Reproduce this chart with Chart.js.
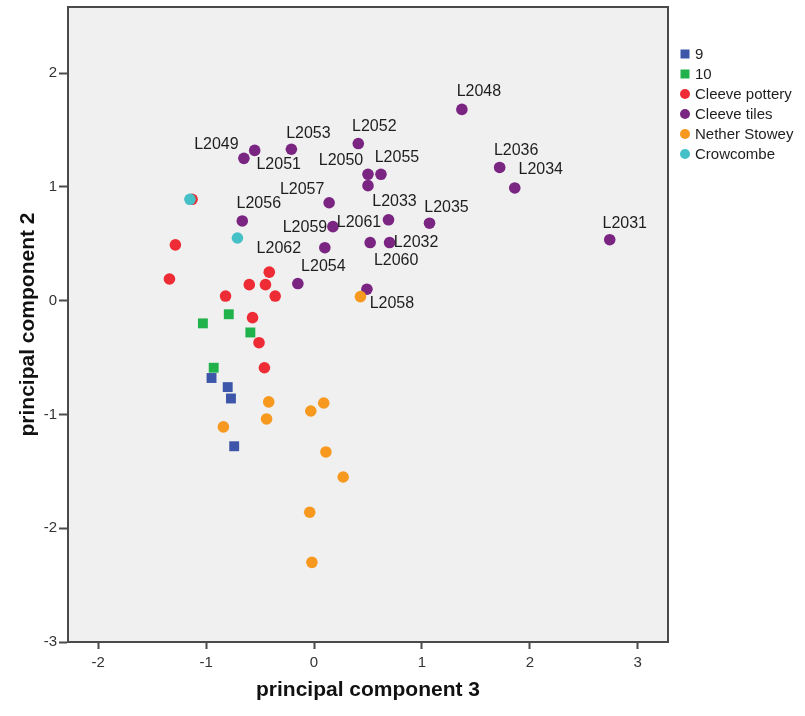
<!DOCTYPE html>
<html>
<head>
<meta charset="utf-8">
<script src="https://cdn.jsdelivr.net/npm/chart.js@4"></script>
<style>
  html, body { margin: 0; padding: 0; background: #ffffff; }
  canvas { display: block; }
</style>
</head>
<body>
<canvas id="pcaChart" width="805" height="716"></canvas>
<script>
/* --------------- Data -------------------------------------------- */
const group9X = [-0.95, -0.80, -0.77, -0.74];
const group9Y = [-0.68, -0.76, -0.86, -1.28];

const group10X = [-1.03, -0.79, -0.59, -0.93];
const group10Y = [-0.20, -0.12, -0.28, -0.59];

const potteryX = [-1.13, -1.285, -1.34, -0.415, -0.60, -0.45, -0.82, -0.36, -0.57, -0.51, -0.46];
const potteryY = [0.89, 0.49, 0.19, 0.25, 0.14, 0.14, 0.04, 0.04, -0.15, -0.37, -0.59];

const tileLabels = [
  "L2048", "L2036", "L2034", "L2031", "L2035", "L2033", "L2032", "L2060", "L2059", "L2058", "L2052",
  "L2050", "L2061", "L2055", "L2053", "L2049", "L2051", "L2057", "L2056", "L2062", "L2054",
];
const tilesX = [1.37, 1.72, 1.86, 2.74, 1.07, 0.69, 0.70, 0.52, 0.175, 0.49, 0.41,
  0.50, 0.50, 0.62, -0.21, -0.65, -0.55, 0.14, -0.665, 0.10, -0.15];
const tilesY = [1.68, 1.17, 0.99, 0.535, 0.68, 0.71, 0.51, 0.51, 0.65, 0.10, 1.38,
  1.11, 1.01, 1.11, 1.33, 1.25, 1.32, 0.86, 0.70, 0.465, 0.15];

const stoweyX = [0.43, -0.42, -0.44, -0.84, -0.03, 0.09, 0.11, 0.27, -0.04, -0.02];
const stoweyY = [0.035, -0.89, -1.04, -1.11, -0.97, -0.90, -1.33, -1.55, -1.86, -2.30];

const crowX = [-1.15, -0.71];
const crowY = [0.89, 0.55];

const seriesNames = ["9", "10", "Cleeve pottery", "Cleeve tiles", "Nether Stowey", "Crowcombe"];
const xTicks = [-2, -1, 0, 1, 2, 3];
const yTicks = [-3, -2, -1, 0, 1, 2];

/* --------------- Styles --------------------- */
const colors = ["#3d56a9", "#22b24c", "#ee2c35", "#7b2583", "#f7981f", "#45c0c6"];
const shapes = ["rect", "rect", "circle", "circle", "circle", "circle"];
const sizes = [7, 7, 5.8, 5.8, 5.8, 5.8];

// where each tile label sits, relative to its point (pixels)
const labelOffsets = [
  [17, -18], [16.5, -17], [26, -18], [15, -16], [17, -16], [6, -18], [26.5, 0], [26, 18], [-28, 1], [25, 14], [16, -17],
  [-27, -14], [-9, 37], [16, -17], [17, -16], [-27.5, -14], [24, 14], [-27, -13], [16.5, -17], [-46, 1], [25.5, -17],
];

const toPoints = (xs, ys) => xs.map((x, i) => ({ x: x, y: ys[i] }));
const allX = [group9X, group10X, potteryX, tilesX, stoweyX, crowX];
const allY = [group9Y, group10Y, potteryY, tilesY, stoweyY, crowY];
// later groups are painted on top, like the original
const drawOrder = [5, 4, 3, 2, 1, 0];

const datasets = seriesNames.map((name, i) => ({
  label: name,
  data: toPoints(allX[i], allY[i]),
  backgroundColor: colors[i],
  borderColor: colors[i],
  borderWidth: 0,
  pointStyle: shapes[i],
  pointRadius: sizes[i],
  pointHoverRadius: sizes[i],
  order: drawOrder[i],
}));

/* --------------- Plugins --------------------- */
const plotFrame = {
  id: "plotFrame",
  beforeDatasetsDraw(chart) {
    const { ctx, chartArea: a } = chart;
    ctx.save();
    ctx.fillStyle = "#f0f0f0";
    ctx.fillRect(a.left, a.top, a.right - a.left, a.bottom - a.top);
    ctx.restore();
  },
  afterDraw(chart) {
    const { ctx, chartArea: a } = chart;
    ctx.save();
    ctx.strokeStyle = "#4a4a4a";
    ctx.lineWidth = 2;
    ctx.strokeRect(a.left, a.top, a.right - a.left, a.bottom - a.top);
    ctx.restore();
  },
};

const tileLabelPlugin = {
  id: "tileLabels",
  afterDatasetsDraw(chart) {
    const { ctx } = chart;
    const meta = chart.getDatasetMeta(3);
    ctx.save();
    ctx.font = "16px 'Liberation Sans', Arial, sans-serif";
    ctx.fillStyle = "#1e1e1e";
    ctx.textAlign = "center";
    ctx.textBaseline = "middle";
    meta.data.forEach((pt, i) => {
      const off = labelOffsets[i];
      ctx.fillText(tileLabels[i], pt.x + off[0], pt.y + off[1]);
    });
    ctx.restore();
  },
};

const sideLegend = {
  id: "sideLegend",
  afterDraw(chart) {
    const { ctx } = chart;
    ctx.save();
    ctx.font = "15px 'Liberation Sans', Arial, sans-serif";
    ctx.textBaseline = "middle";
    ctx.textAlign = "left";
    chart.data.datasets.forEach((ds, i) => {
      const y = 54 + i * 20;
      const x = 685;
      ctx.fillStyle = ds.backgroundColor;
      if (ds.pointStyle === "rect") {
        ctx.fillRect(x - 4.5, y - 4.5, 9, 9);
      } else {
        ctx.beginPath();
        ctx.arc(x, y, 5, 0, Math.PI * 2);
        ctx.fill();
      }
      ctx.fillStyle = "#1e1e1e";
      ctx.fillText(ds.label, x + 10, y + 1);
    });
    ctx.restore();
  },
};

/* --------------- Chart --------------------- */
const tickFont = { family: "'Liberation Sans Narrow', 'Liberation Sans', Arial, sans-serif", size: 15 };
const titleFont = { family: "'Liberation Sans', Arial, sans-serif", size: 21, weight: "bold" };

new Chart(document.getElementById("pcaChart"), {
  type: "scatter",
  data: { datasets: datasets },
  plugins: [plotFrame, tileLabelPlugin, sideLegend],
  options: {
    responsive: false,
    animation: false,
    events: [],
    layout: { padding: { left: 0, top: 7, right: 137, bottom: 0 } },
    plugins: {
      legend: { display: false },
      tooltip: { enabled: false },
    },
    scales: {
      x: {
        type: "linear",
        min: -2.28,
        max: 3.28,
        afterFit(scale) { scale.height = 74; },
        afterBuildTicks(scale) { scale.ticks = xTicks.map((v) => ({ value: v })); },
        grid: { display: true, drawOnChartArea: false, drawTicks: true, tickLength: 7, color: "#4a4a4a", tickWidth: 2 },
        border: { display: true, color: "#4a4a4a", width: 2 },
        ticks: { font: tickFont, color: "#333333", padding: 5, maxRotation: 0 },
        title: { display: true, text: "principal component 3", font: titleFont, color: "#111111", padding: { top: 0, bottom: 13 } },
      },
      y: {
        type: "linear",
        min: -3,
        max: 2.58,
        afterFit(scale) {
          scale.width = 68;
          scale.paddingTop = 0;
          scale.paddingBottom = 0;
        },
        afterBuildTicks(scale) { scale.ticks = yTicks.map((v) => ({ value: v })); },
        grid: { display: true, drawOnChartArea: false, drawTicks: true, tickLength: 9, color: "#4a4a4a", tickWidth: 2 },
        border: { display: true, color: "#4a4a4a", width: 2 },
        ticks: { font: tickFont, color: "#333333", padding: 2 },
        title: { display: true, text: "principal component 2", font: titleFont, color: "#111111", padding: { top: 16, bottom: 0 } },
      },
    },
  },
});
</script>
</body>
</html>
